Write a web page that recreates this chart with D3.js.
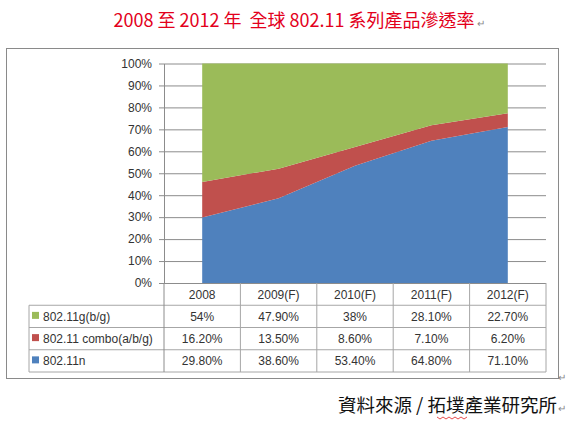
<!DOCTYPE html>
<html>
<head>
<meta charset="utf-8">
<script src="https://cdn.jsdelivr.net/npm/d3@7"></script>
<style>
  html, body { margin: 0; padding: 0; background: #fff; }
  svg { display: block; }
  text { white-space: pre; }
</style>
</head>
<body>
<svg id="chart" width="568" height="424"></svg>
<script>
// ---- data ----
const categories = ["2008", "2009(F)", "2010(F)", "2011(F)", "2012(F)"];
const seriesNames = ["802.11g(b/g)", "802.11 combo(a/b/g)", "802.11n"];
const gValues = [54, 47.9, 38, 28.1, 22.7];
const comboValues = [16.2, 13.5, 8.6, 7.1, 6.2];
const nValues = [29.8, 38.6, 53.4, 64.8, 71.1];
const yTickValues = [0, 10, 20, 30, 40, 50, 60, 70, 80, 90, 100];
const titleText = "2008 至 2012 年  全球 802.11 系列產品滲透率";
const sourceText = "資料來源 / 拓墣產業研究所";

const seriesValues = {
  "802.11g(b/g)": gValues,
  "802.11 combo(a/b/g)": comboValues,
  "802.11n": nValues
};
const colors = {
  "802.11g(b/g)": "#9bbb59",
  "802.11 combo(a/b/g)": "#c0504d",
  "802.11n": "#4f81bd"
};

const rows = categories.map((c, i) => {
  const r = { category: c };
  seriesNames.forEach(s => r[s] = seriesValues[s][i]);
  return r;
});

const svg = d3.select("#chart");
const latin = "'Liberation Sans', Arial, sans-serif";
const cjk = "'Noto Sans CJK TC', 'Noto Sans CJK SC', sans-serif";

// title
const title = svg.append("text")
  .attr("x", 294).attr("y", 27)
  .attr("text-anchor", "middle")
  .attr("font-family", cjk)
  .attr("font-size", 18)
  .attr("fill", "#e3001b")
  .text(titleText);
const tb = title.node().getBBox();
svg.append("text").attr("x", tb.x + tb.width + 2).attr("y", 27)
  .attr("font-family", latin).attr("font-size", 10).attr("fill", "#888").text("↵");

// outer chart border
svg.append("rect").attr("x", 6.5).attr("y", 48.5).attr("width", 552).attr("height", 330)
  .attr("fill", "none").attr("stroke", "#8a8a8a");

// scales
const plotLeft = 164, plotRight = 546, plotTop = 63.5, plotBottom = 283;
const x = d3.scaleBand().domain(categories).range([plotLeft, plotRight]);
const xc = c => x(c) + x.bandwidth() / 2;
const y = d3.scaleLinear().domain([0, 100]).range([plotBottom, plotTop]);

// gridlines
svg.append("g")
  .attr("transform", `translate(${plotLeft - 5},0)`)
  .call(d3.axisRight(y).tickValues(yTickValues).tickSize(plotRight - plotLeft + 5).tickFormat(""))
  .call(g => g.select(".domain").remove())
  .call(g => g.selectAll(".tick line").attr("stroke", "#8c8c8c"));

// stacked areas
const stack = d3.stack().keys(["802.11n", "802.11 combo(a/b/g)", "802.11g(b/g)"]);
const stacked = stack(rows);
const area = d3.area()
  .x(d => xc(d.data.category))
  .y0(d => y(d[0]))
  .y1(d => y(d[1]));
svg.append("g").selectAll("path").data(stacked).join("path")
  .attr("d", area)
  .attr("fill", d => colors[d.key]);

// y axis
svg.append("g")
  .attr("transform", `translate(${plotLeft},0)`)
  .call(d3.axisLeft(y).tickValues(yTickValues).tickSize(0).tickPadding(12).tickFormat(d => d + "%"))
  .call(g => g.select(".domain").attr("stroke", "#8c8c8c"))
  .call(g => g.selectAll("text").attr("font-family", latin).attr("font-size", 12).attr("fill", "#333"));

// data table
const tableLeft = 29, tableBottom = 372;
const rowScale = d3.scaleBand().domain(["header", ...seriesNames]).range([plotBottom, tableBottom]);
const tg = svg.append("g");
const lineColor = "#a6a6a6";
// horizontal lines
seriesNames.forEach(s => {
  tg.append("line").attr("x1", tableLeft).attr("x2", plotRight)
    .attr("y1", rowScale(s)).attr("y2", rowScale(s)).attr("stroke", lineColor);
});
tg.append("line").attr("x1", tableLeft).attr("x2", plotRight)
  .attr("y1", tableBottom).attr("y2", tableBottom).attr("stroke", lineColor);
// vertical lines
tg.append("line").attr("x1", tableLeft).attr("x2", tableLeft)
  .attr("y1", rowScale(seriesNames[0])).attr("y2", tableBottom).attr("stroke", lineColor);
categories.forEach(c => {
  tg.append("line").attr("x1", x(c)).attr("x2", x(c))
    .attr("y1", plotBottom).attr("y2", tableBottom).attr("stroke", c === categories[0] ? "#8c8c8c" : lineColor);
});
tg.append("line").attr("x1", plotRight).attr("x2", plotRight)
  .attr("y1", plotBottom).attr("y2", tableBottom).attr("stroke", lineColor);

// header
categories.forEach(c => {
  tg.append("text").attr("x", xc(c)).attr("y", rowScale("header") + rowScale.bandwidth() / 2 + 4.5)
    .attr("text-anchor", "middle").attr("font-family", latin).attr("font-size", 12).attr("fill", "#333")
    .text(c);
});
const fmt = v => Number.isInteger(v) ? v + "%" : v.toFixed(2) + "%";
seriesNames.forEach(s => {
  const cy = rowScale(s) + rowScale.bandwidth() / 2;
  tg.append("rect").attr("x", 32).attr("y", cy - 4.5).attr("width", 7).attr("height", 7).attr("fill", colors[s]);
  tg.append("text").attr("x", 43).attr("y", cy + 4.5)
    .attr("font-family", latin).attr("font-size", 12).attr("fill", "#333").text(s);
  categories.forEach((c, i) => {
    tg.append("text").attr("x", xc(c)).attr("y", cy + 4.5)
      .attr("text-anchor", "middle").attr("font-family", latin).attr("font-size", 12).attr("fill", "#333")
      .text(fmt(seriesValues[s][i]));
  });
});

// paragraph mark after chart
svg.append("text").attr("x", 558).attr("y", 381)
  .attr("font-family", latin).attr("font-size", 10).attr("fill", "#888").text("↵");

// source
const src = svg.append("text").attr("x", 557).attr("y", 412)
  .attr("text-anchor", "end").attr("font-family", cjk).attr("font-size", 18.5).attr("fill", "#111")
  .text(sourceText);
svg.append("text").attr("x", 558).attr("y", 412)
  .attr("font-family", latin).attr("font-size", 10).attr("fill", "#888").text("↵");
// spell-check squiggle
const sq = d3.range(0, 11).map(i => [437 + i * 3, 417 + (i % 2 ? 2 : 0)]);
svg.append("path").attr("d", d3.line()(sq)).attr("fill", "none").attr("stroke", "#e02020").attr("stroke-width", 0.8);
</script>
</body>
</html>
